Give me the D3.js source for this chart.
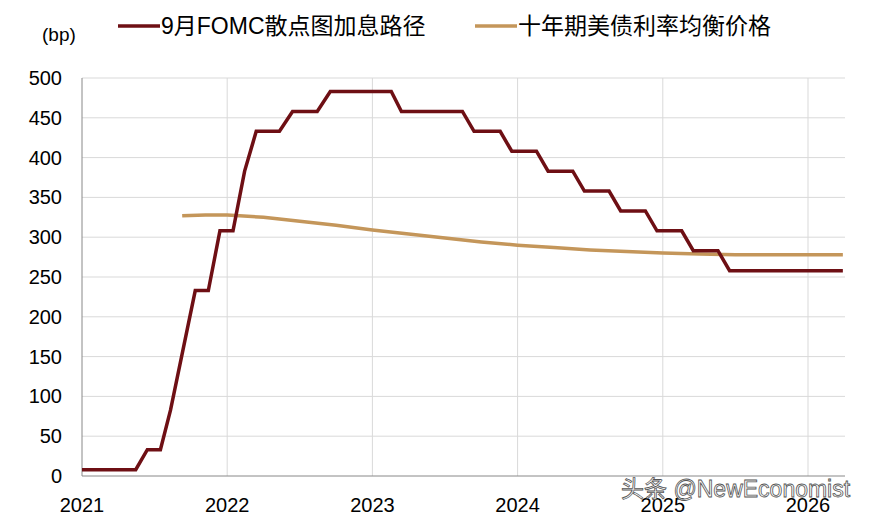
<!DOCTYPE html>
<html><head><meta charset="utf-8">
<script src="https://cdn.jsdelivr.net/npm/d3@7"></script>
<style>body{margin:0;background:#fff}text{font-family:Arial,"Liberation Sans","Noto Sans CJK SC",sans-serif}</style>
</head><body><svg id="chart" width="878" height="517"></svg>
<script>
// data: decimal year, basis points
const fomcYears = [2021.0,2021.37,2021.45,2021.54,2021.61,2021.78,2021.87,2021.95,2022.04,2022.12,2022.2,2022.36,2022.45,2022.62,2022.71,2023.13,2023.2,2023.62,2023.7,2023.88,2023.96,2024.13,2024.21,2024.38,2024.46,2024.63,2024.71,2024.88,2024.96,2025.13,2025.21,2025.38,2025.46,2026.24];
const fomcValues = [8,8,33,33,83,233,233,308,308,383,433,433,458,458,483,483,458,458,433,433,408,408,383,383,358,358,333,333,308,308,283,283,258,258];
const neutralYears = [2021.69,2021.85,2022.0,2022.25,2022.5,2022.75,2023.0,2023.25,2023.5,2023.75,2024.0,2024.25,2024.5,2024.75,2025.0,2025.25,2025.5,2026.24];
const neutralValues = [327,328,328,325,320,315,309,304,299,294,290,287,284,282,280,279,278,278];
const yTicks = [0,50,100,150,200,250,300,350,400,450,500];
const xTicks = [2021,2022,2023,2024,2025,2026];

const svg = d3.select("#chart");
const x = d3.scaleLinear().domain([2021, 2026]).range([82, 808]);
const y = d3.scaleLinear().domain([0, 500]).range([476, 78]);

// grid
svg.selectAll(".hg").data(yTicks.slice(1)).enter().append("line")
  .attr("x1", 82).attr("x2", 845).attr("y1", d => y(d)).attr("y2", d => y(d))
  .attr("stroke", "#d9d9d9");
svg.selectAll(".vg").data(xTicks.slice(1)).enter().append("line")
  .attr("x1", d => x(d)).attr("x2", d => x(d)).attr("y1", 78).attr("y2", 476)
  .attr("stroke", "#d9d9d9");

// axes
svg.append("line").attr("x1", 82).attr("x2", 82).attr("y1", 78).attr("y2", 476).attr("stroke", "#888");
svg.append("line").attr("x1", 82).attr("x2", 845).attr("y1", 476).attr("y2", 476).attr("stroke", "#888");
svg.selectAll(".yl").data(yTicks).enter().append("text")
  .attr("x", 62).attr("y", d => y(d) + 7).attr("text-anchor", "end")
  .attr("font-size", 20).text(d => d);
svg.selectAll(".xl").data(xTicks).enter().append("text")
  .attr("x", d => x(d)).attr("y", 512).attr("text-anchor", "middle")
  .attr("font-size", 20).text(d => d);
svg.append("text").attr("x", 42).attr("y", 41).attr("font-size", 19).text("(bp)");

// lines
const line = d3.line();
svg.append("path")
  .attr("d", line(neutralYears.map((d, i) => [x(d), y(neutralValues[i])])))
  .attr("fill", "none").attr("stroke", "#c4965a").attr("stroke-width", 3.5);
svg.append("path")
  .attr("d", line(fomcYears.map((d, i) => [x(d), y(fomcValues[i])])))
  .attr("fill", "none").attr("stroke", "#6e0f14").attr("stroke-width", 3.5);

// legend
svg.append("line").attr("x1", 118).attr("x2", 160).attr("y1", 26).attr("y2", 26).attr("stroke", "#6e0f14").attr("stroke-width", 3.5);
svg.append("text").attr("x", 161).attr("y", 34).attr("font-size", 23).text("9月FOMC散点图加息路径");
svg.append("line").attr("x1", 475).attr("x2", 517).attr("y1", 26).attr("y2", 26).attr("stroke", "#c4965a").attr("stroke-width", 3.5);
svg.append("text").attr("x", 518).attr("y", 34).attr("font-size", 23).text("十年期美债利率均衡价格");

// watermark
svg.append("text").attr("x", 621).attr("y", 497).attr("font-size", 23)
  .attr("fill", "#fff").attr("stroke", "#555").attr("stroke-width", 0.8)
  .text("头条 @NewEconomist");
</script></body></html>
